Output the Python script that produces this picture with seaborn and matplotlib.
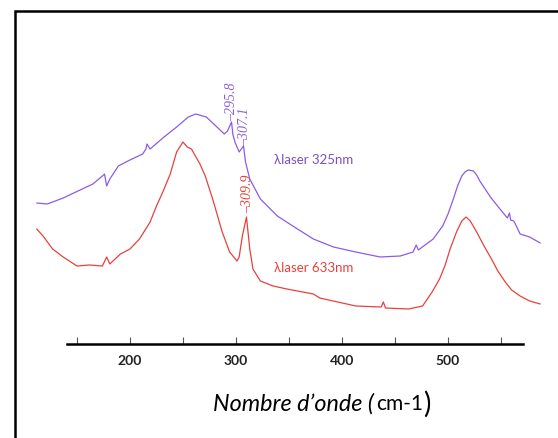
import matplotlib
matplotlib.use('Agg')
import matplotlib.pyplot as plt
import seaborn as sns
import pandas as pd
from matplotlib.patches import Rectangle

# spectra (wavenumber cm-1, intensity a.u.)
wn_325 = [112, 122, 137, 153, 165, 174, 176, 178, 181, 189, 200, 212, 215, 216, 219, 231, 244,
          255, 262, 272, 282, 289, 292, 295.8, 297, 299, 303, 307.1, 309, 313, 323, 339, 358,
          373, 392, 413, 436, 455, 467, 470, 472, 486, 495, 500, 505, 509, 513, 516, 519, 524,
          527, 530, 535, 540, 549, 556, 558, 559, 562, 564, 568, 577, 587]
int_325 = [141, 140, 146, 154, 160, 168, 170, 158, 165, 178, 184, 190, 195, 200, 195, 206, 217,
           227, 230, 227, 217, 210, 213, 222, 210, 202, 192, 198, 182, 165, 145, 128, 115,
           105, 97, 92, 87, 88, 92, 99, 94, 105, 118, 130, 145, 158, 168, 172, 174, 173,
           169, 163, 155, 147, 135, 126, 131, 124, 123, 119, 110, 107, 101]

wn_633 = [112, 118, 127, 137, 150, 162, 174, 178, 181, 191, 200, 209, 219, 225, 231, 238, 244,
          250, 254, 258, 266, 271, 278, 287, 294, 301, 303, 306, 309.9, 313, 316, 323, 335,
          348, 373, 379, 413, 437, 439, 441, 463, 476, 485, 492, 497, 502, 508, 513, 517, 521,
          527, 534, 541, 547, 554, 560, 568, 577, 587]
int_633 = [115, 108, 95, 87, 78, 79, 78, 87, 80, 90, 95, 105, 122, 138, 152, 170, 192,
           202, 197, 195, 180, 168, 145, 112, 92, 83, 87, 108, 127, 95, 75, 63, 58,
           55, 50, 46, 38, 37, 42, 36, 35, 38, 52, 65, 78, 95, 112, 123, 127, 123,
           112, 98, 85, 73, 62, 54, 48, 43, 40]

peak_labels = ['–295.8', '–307.1', '–309.9']
peak_x = [295.8, 308.5, 310.8]
peak_y = [224, 199, 132]
peak_colors = ['#8b5fd8', '#8b5fd8', '#e8413c']

major_ticks = [200, 300, 400, 500]
minor_ticks = [150, 250, 350, 450, 550]

purple = '#8c5ce6'
red = '#e8413c'

sns.set_theme(style='white')
plt.rcParams['font.family'] = ['Lato', 'DejaVu Sans']

W, H = 558, 439
fig = plt.figure(figsize=(W / 100, H / 100), dpi=100)
ax = fig.add_axes([30 / W, (H - 345) / H, 520 / W, 285 / H])

df1 = pd.DataFrame({'wn': wn_325, 'I': int_325})
df2 = pd.DataFrame({'wn': wn_633, 'I': int_633})
sns.lineplot(data=df1, x='wn', y='I', ax=ax, color=purple, linewidth=0.9)
sns.lineplot(data=df2, x='wn', y='I', ax=ax, color=red, linewidth=0.9)

ax.set_xlim(105.7, 596.2)
ax.set_ylim(0, 285)

for s in ['left', 'top', 'right']:
    ax.spines[s].set_visible(False)
ax.spines['bottom'].set_bounds(141, 571)
ax.spines['bottom'].set_linewidth(1.8)
ax.spines['bottom'].set_color('black')

ax.set_yticks([])
ax.set_xticks(major_ticks)
ax.set_xticks(minor_ticks, minor=True)
ax.set_xticklabels([str(t) for t in major_ticks], fontweight='bold', fontsize=10)
ax.tick_params(axis='x', which='both', direction='in', length=5, width=0.8,
               color='#555555', bottom=True, pad=7, labelcolor='#222222')
ax.set_xlabel('')
ax.set_ylabel('')

for lab, x, y, c in zip(peak_labels, peak_x, peak_y, peak_colors):
    ax.text(x, y, lab, rotation=90, ha='center', va='bottom', color=c,
            fontsize=10, fontstyle='italic', family=['Liberation Serif', 'DejaVu Serif'])

ax.text(336, 185, 'λlaser 325nm', color='#7a50c8', fontsize=9.5, va='center', ha='left')
ax.text(336, 77, 'λlaser 633nm', color=red, fontsize=9.5, va='center', ha='left')

# x axis title: italic part + regular part + bigger closing bracket
ty = 1 - 404 / H
fig.text(374 / W, ty, 'Nombre d’onde (', ha='right', va='center',
         fontsize=16.8, fontstyle='italic', color='black')
t2 = fig.text(376 / W, ty, 'cm-1', ha='left', va='center', fontsize=15, color='black')
fig.canvas.draw()
bb = t2.get_window_extent()
fig.text((bb.x1 + 0.5) / W, ty, ')', ha='left', va='center', fontsize=20, color='black')

# frame around the figure (cropped on the right and bottom)
fig.add_artist(Rectangle((14.5 / W, -0.1), 2, 1.1 - 12.5 / H, transform=fig.transFigure,
                         fill=False, edgecolor='black', linewidth=1.8))

fig.savefig('out.png', dpi=100)
